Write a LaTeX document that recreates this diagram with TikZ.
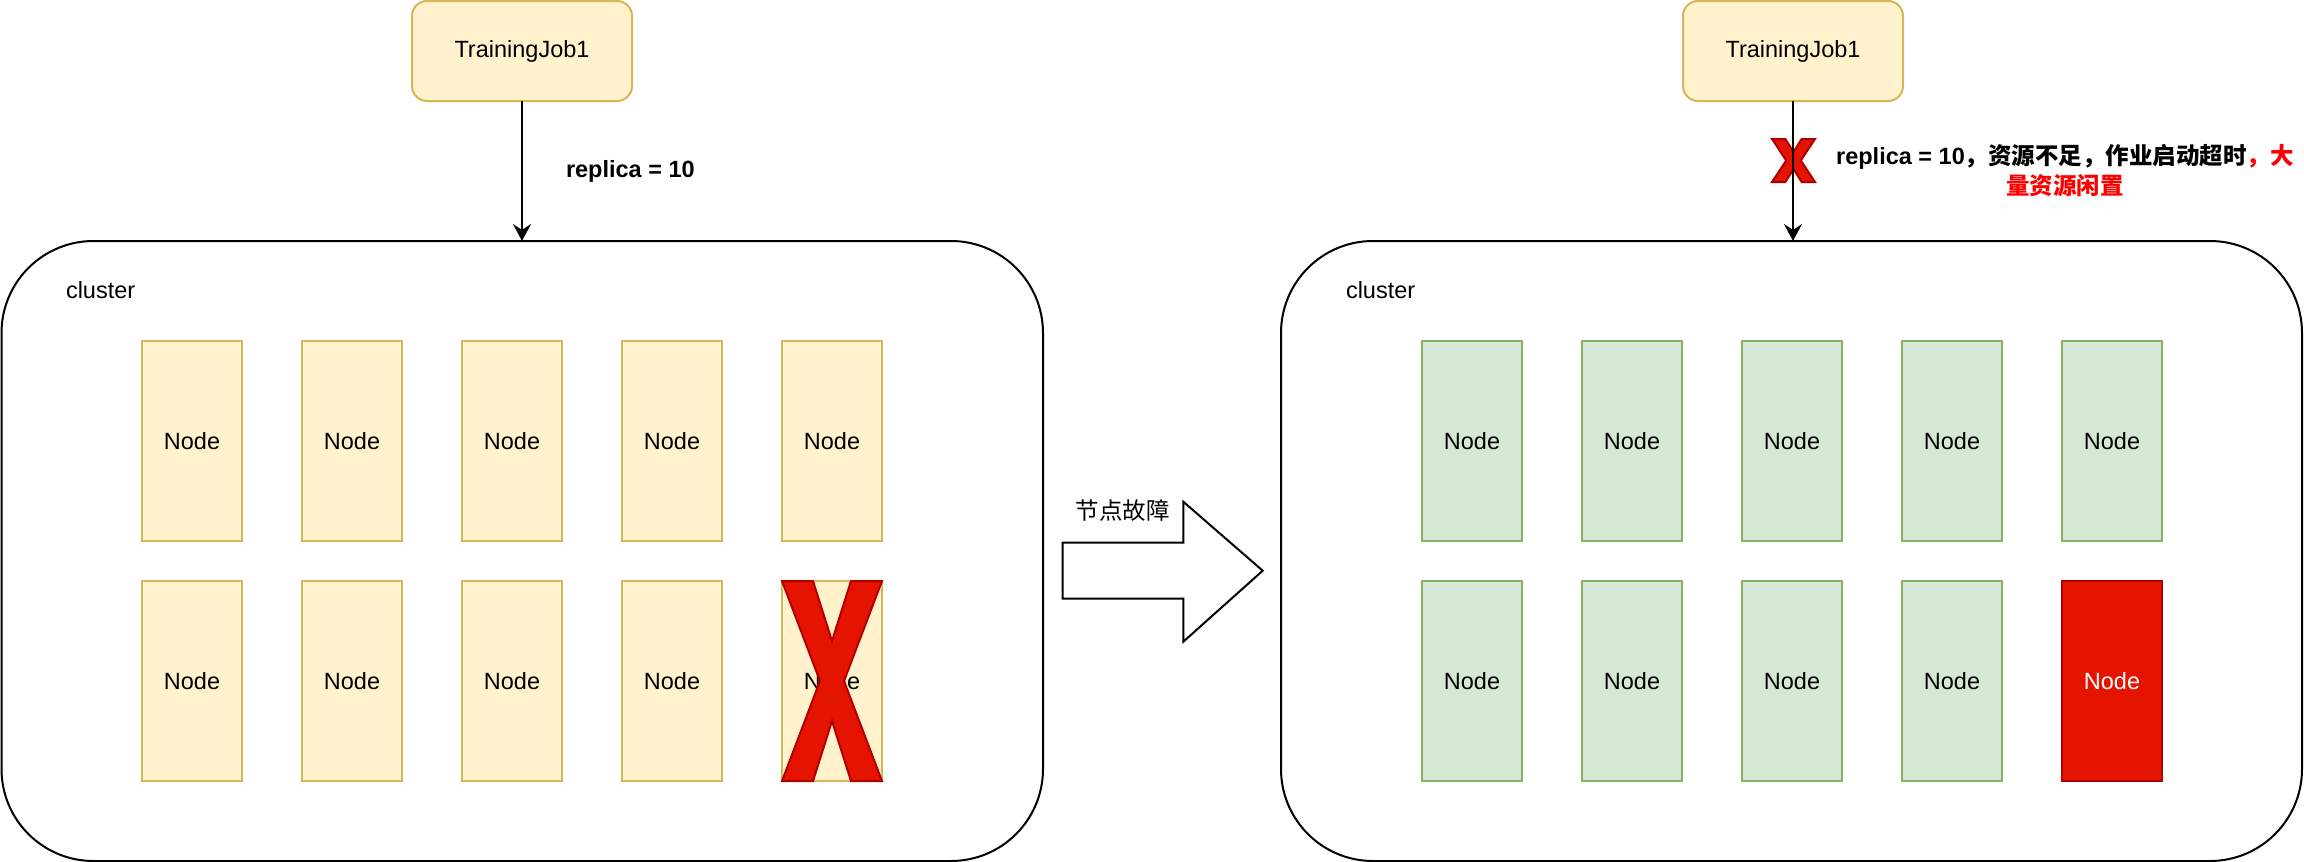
\documentclass[tikz,border=0pt]{standalone}
\usepackage{fontspec}
\setmainfont{Liberation Sans}
\newfontfamily\cjk{Noto Sans CJK SC}
\usetikzlibrary{arrows.meta}
\definecolor{ylfill}{HTML}{FFF2CC}
\definecolor{yldraw}{HTML}{D6B656}
\definecolor{grfill}{HTML}{D5E8D4}
\definecolor{grdraw}{HTML}{82B366}
\definecolor{rdfill}{HTML}{E51400}
\definecolor{rddraw}{HTML}{B20000}
\tikzset{
  xcross/.pic={\filldraw[fill=rdfill, draw=rddraw, line width=1pt]
    (0,0) -- (0.31,0) -- (0.5,0.3) -- (0.69,0) -- (1,0) -- (0.62,0.5) -- (1,1)
    -- (0.69,1) -- (0.5,0.7) -- (0.31,1) -- (0,1) -- (0.38,0.5) -- cycle;},
  xcrosssmall/.pic={\filldraw[fill=rdfill, draw=rddraw, line width=1pt]
    (0,0) -- (0.31,0) -- (0.5,0.3) -- (0.69,0) -- (1,0) -- (0.67,0.5) -- (1,1)
    -- (0.69,1) -- (0.5,0.7) -- (0.31,1) -- (0,1) -- (0.33,0.5) -- cycle;}
}
\begin{document}
\begin{tikzpicture}[x=0.5pt,y=-0.5pt, line width=1pt,
  font=\fontsize{11.75pt}{14pt}\selectfont,
  every node/.style={inner sep=0pt, outer sep=0pt},
  clusterbox/.style={draw=black, fill=white, rounded corners=46pt, minimum width=#1, minimum height=310pt},
  jobbox/.style={draw=yldraw, fill=ylfill, rounded corners=7.5pt, minimum width=110pt, minimum height=50pt},
  ynode/.style={draw=yldraw, fill=ylfill, minimum width=50pt, minimum height=100pt},
  gnode/.style={draw=grdraw, fill=grfill, minimum width=50pt, minimum height=100pt},
  rnode/.style={draw=rddraw, fill=rdfill, text=white, minimum width=50pt, minimum height=100pt},
  conn/.style={draw=black, -{Stealth[length=8.5pt, width=9pt, inset=3pt]}},
  boldlab/.style={font=\fontsize{11.75pt}{15pt}\selectfont\bfseries, align=center}
]
\useasboundingbox (0,0) rectangle (2304,862);

% clusters
\node[clusterbox=520.75pt] (cl1) at (522.25,551) {};
\node[clusterbox=510.5pt] (cl2) at (1791.5,551) {};
\node[anchor=west] (cl1lab) at (66,290) {cluster};
\node[anchor=west] (cl2lab) at (1346,290) {cluster};

% training jobs
\node[jobbox] (tj1) at (522,51) {TrainingJob1};
\node[jobbox] (tj2) at (1793,51) {TrainingJob1};

% connectors
\pic[xscale=43, yscale=43] at (1772,139) {xcrosssmall};
\draw[conn] (tj1.south) -- (tj1.south |- cl1.north);
\draw[conn] (tj2.south) -- (tj2.south |- cl2.north);
\node[boldlab, anchor=west] (lab1) at (566,171) {replica = 10};
\node[boldlab] (lab2) at (2065,171) {replica = 10{\cjk ，资源不足，作业启动超时}\textcolor{red}{\cjk ，大}\\\textcolor{red}{\cjk 量资源闲置}};

% left nodes
\foreach \c [count=\k] in {192,352,512,672,832} {
  \node[ynode] (lt\k) at (\c,441) {Node};
  \node[ynode] (lb\k) at (\c,681) {Node};
}
\pic[xscale=100, yscale=200] at (lb5.north west) {xcross};

% right nodes
\foreach \c [count=\k] in {1472,1632,1792,1952,2112} {
  \node[gnode] (rt\k) at (\c,441) {Node};
}
\foreach \c [count=\k] in {1472,1632,1792,1952} {
  \node[gnode] (rb\k) at (\c,681) {Node};
}
\node[rnode] (rb5) at (2112,681) {Node};

% block arrow
\draw[fill=white] (1062.7,542.7) -- (1183.3,542.7) -- (1183.3,501.7) -- (1262.7,570.7)
  -- (1183.3,641.7) -- (1183.3,598.7) -- (1062.7,598.7) -- cycle;
\node (fail) at (1122.5,510.7) {\cjk 节点故障};
\end{tikzpicture}
\end{document}
